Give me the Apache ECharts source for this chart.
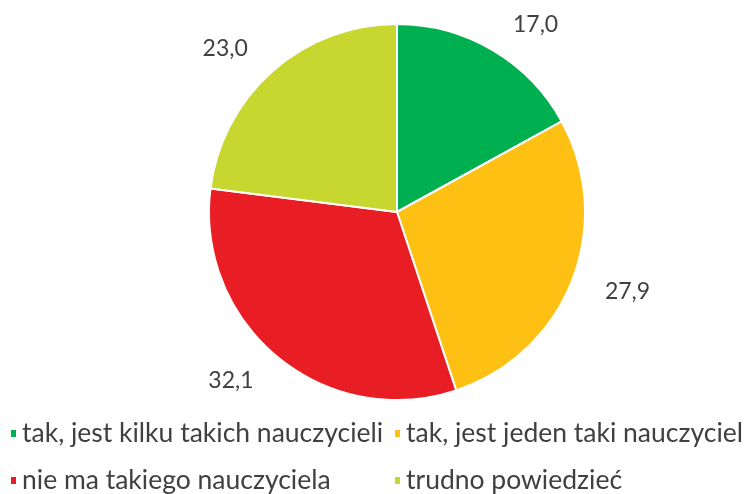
<!DOCTYPE html>
<html>
<head>
<meta charset="utf-8">
<script src="https://cdn.jsdelivr.net/npm/echarts@6/dist/echarts.min.js"></script>
<style>
  html, body { margin: 0; padding: 0; background: #fff; }
  #chart { width: 754px; height: 494px; }
</style>
</head>
<body>
<div id="chart"></div>
<script>
// kategorie i wartości (%)
const categories = [
  'tak, jest kilku takich nauczycieli',
  'tak, jest jeden taki nauczyciel',
  'nie ma takiego nauczyciela',
  'trudno powiedzieć'
]
const values = [17.0, 27.9, 32.1, 23.0]
const colors = ['#00af4f', '#fdc013', '#e91e25', '#c8d630']

const fontFamily = 'Lato, "Open Sans", sans-serif'
const textColor = '#404040'

// pozycje legendy: [left, top] dla każdej kategorii (2 kolumny x 2 wiersze)
const legendPos = [[4, 415], [388, 415], [4, 462], [388, 462]]

const chart = echarts.init(document.getElementById('chart'))

chart.setOption({
  animation: false,
  backgroundColor: '#fff',
  color: colors,
  legend: categories.map((name, i) => ({
    left: legendPos[i][0],
    top: legendPos[i][1],
    data: [name],
    itemWidth: 7,
    itemHeight: 9,
    itemGap: 8,
    icon: 'rect',
    selectedMode: false,
    textStyle: { fontFamily: fontFamily, fontSize: 26.5, color: textColor },
  })),
  series: [{
    type: 'pie',
    center: [397, 212],
    radius: 188,
    startAngle: 90,
    clockwise: true,
    itemStyle: { borderColor: '#fff', borderWidth: 2 },
    label: {
      show: true,
      position: 'outside',
      fontFamily: fontFamily,
      fontSize: 23,
      color: textColor,
      formatter: p => p.value.toFixed(1).replace('.', ','),
    },
    labelLine: { show: false, length: 30, length2: 0 },
    data: categories.map((name, i) => ({ name: name, value: values[i] })),
  }],
})
</script>
</body>
</html>
